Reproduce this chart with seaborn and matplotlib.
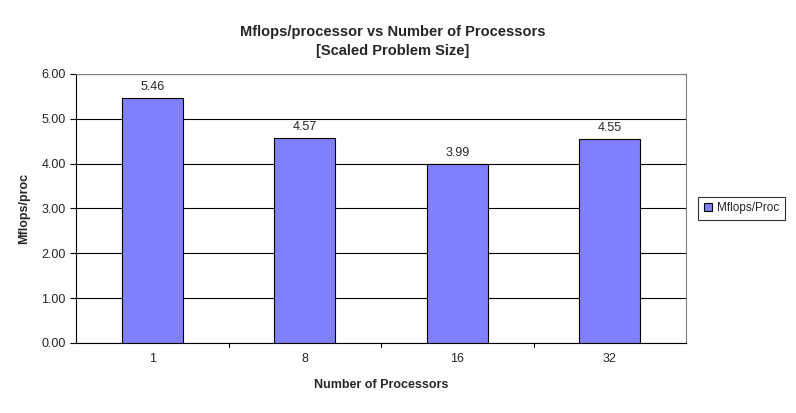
import matplotlib
matplotlib.use("Agg")
import matplotlib.pyplot as plt
import seaborn as sns
import pandas as pd

categories = ["1", "8", "16", "32"]
values = [5.46, 4.57, 3.99, 4.55]

sns.set_style("white")
plt.rcParams['font.family'] = ['Liberation Sans', 'DejaVu Sans']

df = pd.DataFrame({"proc": categories, "val": values})
fig = plt.figure(figsize=(7.96, 4.13), dpi=100)
ax = fig.add_axes([0.0955, 0.1695, 0.7665, 0.6515])
sns.barplot(data=df, x="proc", y="val", ax=ax, color="#8080FF", saturation=1,
            edgecolor="black", linewidth=0.8, width=0.4, label="Mflops/Proc", zorder=3)
ax.set_ylim(0, 6)
ax.set_xlim(-0.5, 3.5)
ax.set_yticks([0, 1, 2, 3, 4, 5, 6])
ax.set_yticklabels([f"{v:.2f}" for v in range(7)], fontsize=9)
ax.yaxis.grid(True, color="black", linewidth=0.8, zorder=0)
ax.set_axisbelow(True)
for s in ax.spines.values():
    s.set_color("#808080"); s.set_linewidth(0.8)
ax.spines['left'].set_color("black"); ax.spines['bottom'].set_color("black")
ax.tick_params(axis='y', left=True, length=4, direction='out', color='black')
ax.tick_params(axis='x', bottom=False, labelsize=9)
for xm in [0.5, 1.5, 2.5]:
    ax.plot([xm, xm], [0, -0.015], transform=ax.get_xaxis_transform(), color="black",
            linewidth=0.8, clip_on=False)
for i, v in enumerate(values):
    ax.text(i, v + 0.12, f"{v:.2f}", ha="center", va="bottom", fontsize=9)
ax.set_xlabel("Number of Processors", fontsize=9, fontweight="bold", labelpad=10)
ax.set_ylabel("Mflops/proc", fontsize=9, fontweight="bold", labelpad=8)
fig.text(0.493, 0.9, "Mflops/processor vs Number of Processors\n[Scaled Problem Size]",
         ha="center", va="center", fontsize=10.5, fontweight="bold", linespacing=1.4)
leg = ax.legend(loc="center left", bbox_to_anchor=(1.01, 0.5), fontsize=8.5, frameon=True,
                fancybox=False, edgecolor="black", handlelength=0.7, handleheight=0.7,
                borderpad=0.5, handletextpad=0.4)
leg.get_frame().set_linewidth(0.8)
fig.savefig("out.png", dpi=100)
